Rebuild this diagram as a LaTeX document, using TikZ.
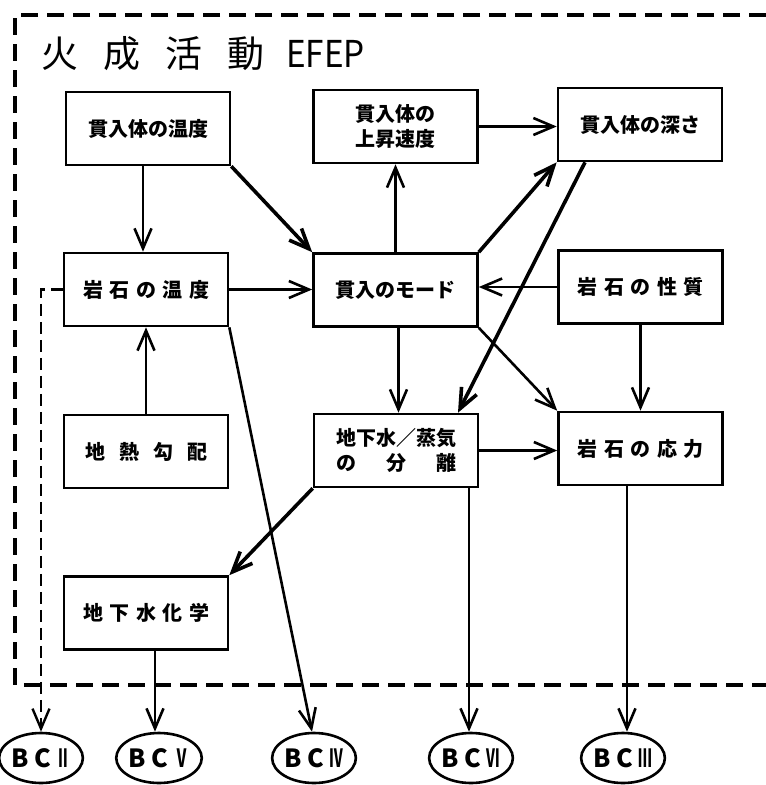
\documentclass[tikz,border=0pt]{standalone}
\usepackage{fontspec}
\usepackage{graphicx}
\setmainfont{Noto Sans CJK JP}
\usetikzlibrary{arrows.meta,shapes.geometric}
\newcommand\jgap{\hspace{6.5pt}}
\begin{document}
\begin{tikzpicture}[x=1pt,y=-1pt,
  box/.style={draw,line width=2.6pt,minimum width=164pt,minimum height=73pt,inner sep=0pt,
    font=\bfseries\fontsize{20}{25}\selectfont,align=center},
  wide/.style={font=\bfseries\fontsize{20}{24}\selectfont},
  bc/.style={draw,ellipse,line width=2.6pt,minimum width=80pt,minimum height=50pt,inner sep=0pt,
    font=\bfseries\fontsize{25}{28}\selectfont},
  arr/.style={line width=2.6pt,-{Straight Barb[length=20pt,width=17pt]}},
  tarr/.style={arr,line width=3.6pt},
  efepframe/.style={line width=4pt,dash pattern=on 17pt off 9pt},
]
\useasboundingbox (0,0) rectangle (766,785);

% title
\node[anchor=west,inner sep=0pt,font=\fontsize{37}{40}\selectfont] (title) at (41,54)
  {火\hspace{25pt}成\hspace{25pt}活\hspace{25pt}動\hspace{22pt}\scalebox{0.9}[1]{EFEP}};

% boxes
\node[box] (b1) at (148,128.5) {貫入体の温度};
\node[box] (b2) at (395.5,126.5) {貫入体の\\上昇速度};
\node[box] (b3) at (640,124.5) {貫入体の深さ};
\node[box,wide] (b4) at (146,289.5) {岩\jgap 石\jgap の\jgap 温\jgap 度};
\node[box] (b5) at (395.5,290) {貫入のモード};
\node[box,wide] (b6) at (640.5,287) {岩\jgap 石\jgap の\jgap 性\jgap 質};
\node[box,wide] (b7) at (146,451.5) {地\hspace{14pt}熱\hspace{14pt}勾\hspace{14pt}配};
\node[box] (b8) at (396,450.5) {地下水／蒸気\\\makebox[6em][s]{の\hfill 分\hfill 離}};
\node[box,wide] (b9) at (640.5,448.5) {岩\jgap 石\jgap の\jgap 応\jgap 力};
\node[box,wide] (b10) at (146,613) {地\jgap 下\jgap 水\jgap 化\jgap 学};

% ovals
\node[bc] (c2) at (41,758) {B C \scalebox{0.55}[1]{Ⅱ}};
\node[bc] (c5) at (159,758) {B C \scalebox{0.6}[1]{Ⅴ}};
\node[bc] (c4) at (314,758) {B C \scalebox{0.55}[1]{Ⅳ}};
\node[bc] (c6) at (471,758) {B C \scalebox{0.55}[1]{Ⅵ}};
\node[bc] (c3) at (623,758) {B C \scalebox{0.55}[1]{Ⅲ}};

% connectors
\draw[arr] ([xshift=-5pt]b1.south) -- ([xshift=-5pt]b1.south |- b4.north);
\draw[tarr] (b1.south east) -- (b5.north west);
\draw[arr] (b2.east) -- (b2.east -| b3.west);
\draw[arr] (b5.north) -- (b5.north |- b2.south);
\draw[tarr] (b5.north east) -- (b3.south west);
\draw[tarr] ([xshift=-55pt]b3.south) -- ([xshift=62pt]b8.north);
\draw[arr] (b4.east) -- (b4.east -| b5.west);
\draw[arr] (b6.west) -- (b6.west -| b5.east);
\draw[arr] ([xshift=3pt]b5.south) -- ([xshift=3pt]b5.south |- b8.north);
\draw[arr] (b5.south east) -- (b9.north west);
\draw[arr] (b6.south) -- (b6.south |- b9.north);
\draw[arr] (b7.north) -- (b7.north |- b4.south);
\draw[arr] (b8.east) -- (b8.east -| b9.west);
\draw[tarr] (b8.south west) -- (b10.north east);
\draw[arr] (b4.south east) -- ([xshift=-2pt]c4.north);
\draw[arr] ([xshift=73pt]b8.south) -- ([xshift=73pt]b8.south |- c6.north);
\draw[arr] ([xshift=-13.5pt]b9.south) -- ([xshift=-13.5pt]b9.south |- c3.north);
\draw[arr] ([xshift=9pt]b10.south) -- ([xshift=9pt]b10.south |- c5.north);
\draw[arr,line width=2.4pt,dash pattern=on 12pt off 6pt] (b4.west) -| (c2.north);

% dashed frame
\draw[efepframe] (766,15) -- (15,15) -- (15,685) -- (766,685);
\end{tikzpicture}
\end{document}
